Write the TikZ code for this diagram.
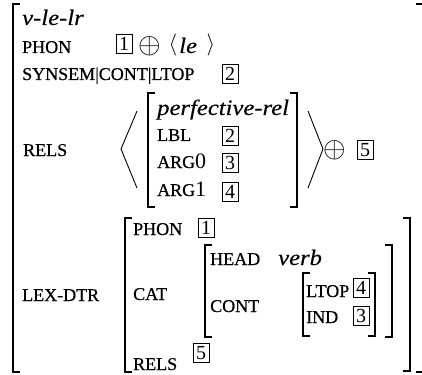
\documentclass[tikz,border=0pt]{standalone}
\usepackage{fix-cm}
\usepackage{fontspec}
\setmainfont{Liberation Serif}
\newfontfamily\avmfeat[FakeBold=0.6]{Liberation Serif}
\newfontfamily\avmtype[FakeStretch=1.12,FakeBold=0.3,UprightFont={Liberation Serif Italic}]{Liberation Serif}

\begin{document}
\begin{tikzpicture}[x=1pt, y=-1pt,
  feat/.style={anchor=base west, inner sep=0pt, font=\avmfeat\fontsize{18}{20}\selectfont},
  type/.style={anchor=base west, inner sep=0pt, font=\avmtype\fontsize{22}{24}\selectfont},
  tag/.style={draw, line width=0.7pt, minimum width=16pt, minimum height=19pt, inner sep=0pt, font=\fontsize{20}{20}\selectfont},
  op/.style={inner sep=0pt, font=\fontsize{29}{30}\selectfont},
  brk/.style={line width=1.1pt}]
\useasboundingbox (0,0) rectangle (422,374);
%% Outer brackets
\draw[brk] (20,4) -- (13,4) -- (13,372) -- (20,372);
\draw[brk] (416,4) -- (423,4) -- (423,372) -- (416,372);
%% Type, PHON and LTOP
\node[type] (vlelr) at (22,25) {v-le-lr};
\node[feat] (phon) at (22,53) {PHON};
\node[tag]  (phonTag) at (124,44) {1};
\node[op]   (phonPlus) at (150,46) {$\oplus$};
\node[op, font=\fontsize{22}{24}\selectfont] (leOpen) at (173,45) {$\langle$};
\node[type] (le) at (179,53) {le};
\node[op, font=\fontsize{22}{24}\selectfont] (leClose) at (211,45) {$\rangle$};
\node[feat] (ltop) at (22,80) {SYNSEM|CONT|LTOP};
\node[tag]  (ltopTag) at (230,74) {2};
%% RELS: list with one relation
\node[feat] (rels) at (23,156) {RELS};
\draw[line width=0.9pt] (137,111) -- (121,149) -- (137,188);
\draw[brk] (155,93) -- (148,93) -- (148,207) -- (155,207);
\draw[brk] (290,93) -- (297,93) -- (297,207) -- (290,207);
\node[type] (rel) at (157,115) {perfective-rel};
\node[feat] (lbl) at (157,141) {LBL};
\node[feat] (argZero) at (157,168) {ARG\normalfont\fontsize{22}{24}\selectfont 0};
\node[feat] (argOne) at (157,196) {ARG\normalfont\fontsize{22}{24}\selectfont 1};
\node[tag]  (lblTag) at (230,136) {2};
\node[tag]  (argZeroTag) at (230,163) {3};
\node[tag]  (argOneTag) at (230,192) {4};
\draw[line width=0.9pt] (308,111) -- (323,149) -- (308,188);
\node[op]   (relsPlus) at (335,150) {$\oplus$};
\node[tag]  (relsTag) at (365,150) {5};
%% LEX-DTR
\node[feat] (lexdtr) at (22,301) {LEX-DTR};
\draw[brk] (132,218) -- (125,218) -- (125,372) -- (132,372);
\draw[brk] (403,218) -- (410,218) -- (410,371) -- (403,371);
\node[feat] (dtrPhon) at (133,235) {PHON};
\node[tag]  (dtrPhonTag) at (206,228) {1};
\node[feat] (cat) at (133,300) {CAT};
\node[feat] (dtrRels) at (133,370) {RELS};
\node[tag]  (dtrRelsTag) at (201,353) {5};
%% CAT value
\draw[brk] (212,245) -- (205,245) -- (205,337) -- (212,337);
\draw[brk] (385,245) -- (392,245) -- (392,337) -- (385,337);
\node[feat] (head) at (210,265) {HEAD};
\node[type] (verb) at (278,265) {verb};
\node[feat] (cont) at (210,312) {CONT};
\draw[brk] (310,273) -- (303,273) -- (303,336) -- (310,336);
\draw[brk] (368,273) -- (375,273) -- (375,336) -- (368,336);
\node[feat] (contLtop) at (306,297) {LTOP};
\node[feat] (ind) at (306,323) {IND};
\node[tag]  (contLtopTag) at (361,288) {4};
\node[tag]  (indTag) at (361,316) {3};
\end{tikzpicture}
\end{document}
